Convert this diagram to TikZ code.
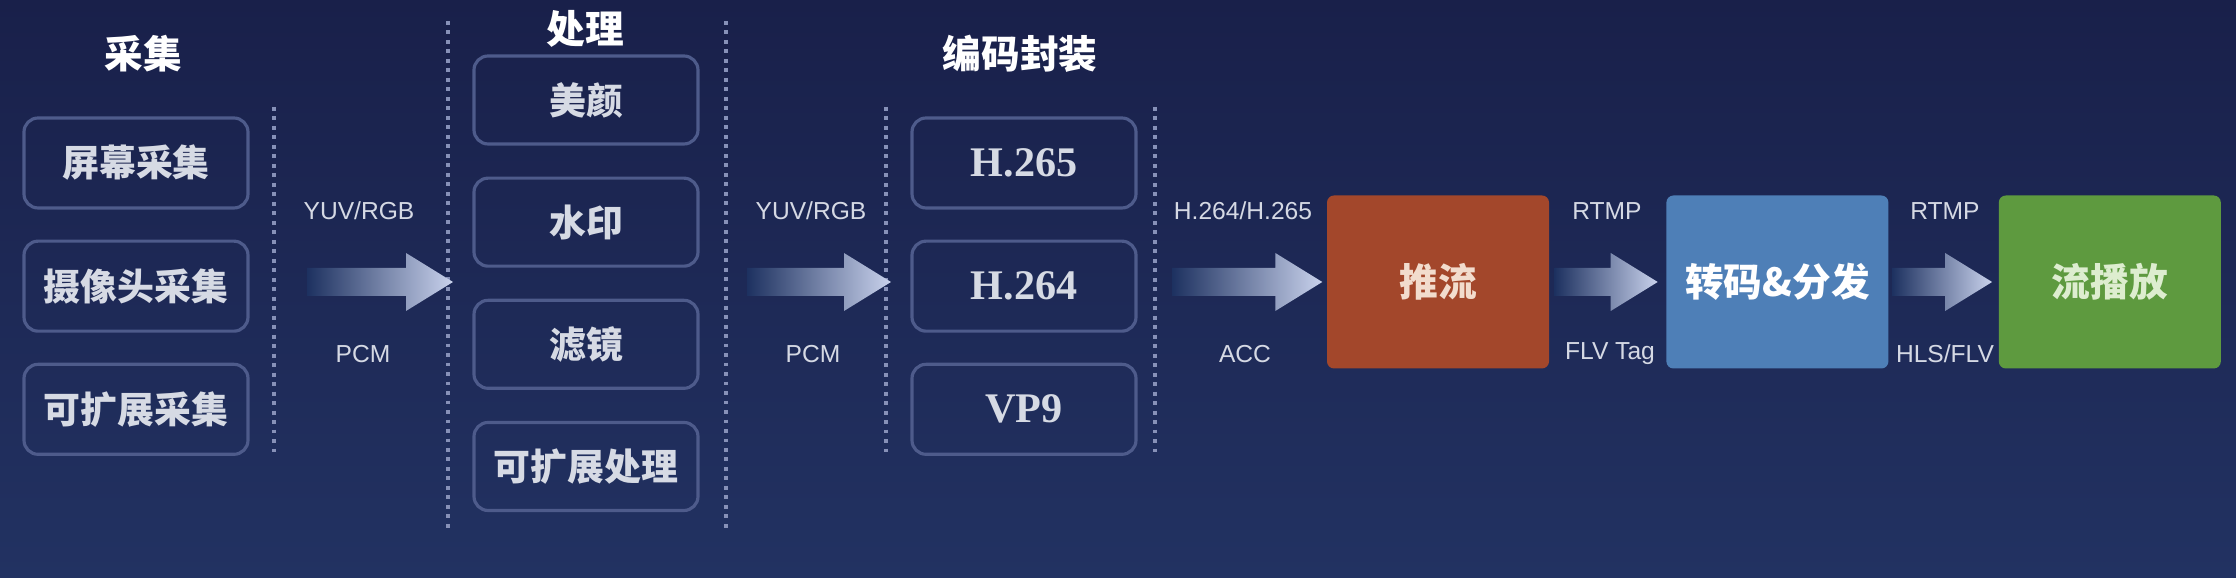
\documentclass[tikz,border=0pt]{standalone}
\usepackage{fontspec}
\setmainfont{Liberation Sans}
\newfontfamily\cjk{Noto Sans CJK SC}
\newfontfamily\codecfont{Liberation Serif}
\usetikzlibrary{calc,positioning}
\definecolor{bgTop}{HTML}{19204A}
\definecolor{bgBottom}{HTML}{223262}
\definecolor{boxLine}{HTML}{4E5B8B}
\definecolor{boxText}{HTML}{D6DAE4}
\definecolor{dotLine}{HTML}{8791B8}
\definecolor{arrowTail}{HTML}{1D3160}
\definecolor{arrowHead}{HTML}{C9D2EC}
\definecolor{labelText}{HTML}{D5D9E4}
\definecolor{pushRed}{HTML}{A3472B}
\definecolor{pushText}{HTML}{F2DCCD}
\definecolor{transBlue}{HTML}{4E7FB7}
\definecolor{playGreen}{HTML}{5E9A3F}
\definecolor{playText}{HTML}{DDEDCF}

% shaded block arrow between two points (same height)
\newcommand\flowarrow[2]{%
  \path[flow] let \p1=(#1), \p2=(#2) in
    (\x1,\y1+.14cm) -- (\x2-.47cm,\y1+.14cm) -- (\x2-.47cm,\y1+.29cm) -- (\x2,\y1)
    -- (\x2-.47cm,\y1-.29cm) -- (\x2-.47cm,\y1-.14cm) -- (\x1,\y1-.14cm) -- cycle;}

\begin{document}
\begin{tikzpicture}[
  capbox/.style={draw=boxLine,line width=.9pt,rounded corners=4pt,minimum width=2.24cm,minimum height=.9cm,font=\cjk\bfseries\fontsize{10.5}{12}\selectfont,text=boxText},
  procbox/.style={capbox,minimum height=.88cm},
  codecbox/.style={capbox,font=\codecfont\bfseries\fontsize{12}{14}\selectfont},
  title/.style={font=\cjk\bfseries\fontsize{11}{13}\selectfont,text=white},
  block/.style={minimum width=2.22cm,minimum height=1.73cm,rounded corners=2pt,font=\cjk\bfseries\fontsize{11}{13}\selectfont},
  lab/.style={font=\fontsize{7}{8}\selectfont,text=labelText},
  sep/.style={dotLine,line width=1.1pt,dash pattern=on 1.1pt off 1.6pt},
  flow/.style={left color=arrowTail,right color=arrowHead}
]
  \useasboundingbox (0,0) rectangle (22.36,5.78);
  \shade[top color=bgTop,bottom color=bgBottom] (0,0) rectangle (22.36,5.78);

  % capture
  \node[title] (captitle) at (1.43,5.24) {采集};
  \node[capbox] (screen) at (1.36,4.15) {屏幕采集};
  \node[capbox,below=.3cm of screen] (camera) {摄像头采集};
  \node[capbox,below=.3cm of camera] (capext) {可扩展采集};

  % processing
  \node[title] (proctitle) at (5.85,5.49) {处理};
  \node[procbox] (beauty) at (5.86,4.78) {美颜};
  \node[procbox,below=.31cm of beauty] (watermark) {水印};
  \node[procbox,below=.31cm of watermark] (filter) {滤镜};
  \node[procbox,below=.31cm of filter] (procext) {可扩展处理};

  % encoding
  \node[title] (codectitle) at (10.2,5.24) {编码封装};
  \node[codecbox] (hevc) at (10.24,4.15) {H.265};
  \node[codecbox,below=.3cm of hevc] (avc) {H.264};
  \node[codecbox,below=.3cm of avc] (vp9) {VP9};

  % separators
  \draw[sep] (2.74,4.71) -- (2.74,1.25);
  \draw[sep] (4.48,5.57) -- (4.48,0.48);
  \draw[sep] (7.26,5.57) -- (7.26,0.48);
  \draw[sep] (8.86,4.71) -- (8.86,1.25);
  \draw[sep] (11.55,4.71) -- (11.55,1.25);

  % stages
  \node[block,fill=pushRed,text=pushText] (push) at (14.38,2.96) {推流};
  \node[block,fill=transBlue,text=white,right=1.16cm of push] (trans) {转码\&分发};
  \node[block,fill=playGreen,text=playText,right=1.09cm of trans] (play) {流播放};

  % arrows
  \coordinate (capout) at (3.07,2.96);
  \coordinate (procin) at (4.53,2.96);
  \coordinate (procout) at (7.47,2.96);
  \coordinate (codecin) at (8.91,2.96);
  \coordinate (codecout) at (11.72,2.96);
  \flowarrow{capout}{procin}
  \flowarrow{procout}{codecin}
  \flowarrow{codecout}{[xshift=-.04cm]push.west}
  \flowarrow{[xshift=.05cm]push.east}{[xshift=-.08cm]trans.west}
  \flowarrow{[xshift=.03cm]trans.east}{[xshift=-.06cm]play.west}

  % labels
  \node[lab] at (3.59,3.67) {YUV/RGB};
  \node[lab] at (3.63,2.24) {PCM};
  \node[lab] at (8.11,3.67) {YUV/RGB};
  \node[lab] at (8.13,2.24) {PCM};
  \node[lab] at (12.43,3.67) {H.264/H.265};
  \node[lab] at (12.45,2.24) {ACC};
  \node[lab] at (16.07,3.67) {RTMP};
  \node[lab] at (16.10,2.24) {FLV Tag};
  \node[lab] at (19.45,3.67) {RTMP};
  \node[lab] at (19.45,2.24) {HLS/FLV};
\end{tikzpicture}
\end{document}
